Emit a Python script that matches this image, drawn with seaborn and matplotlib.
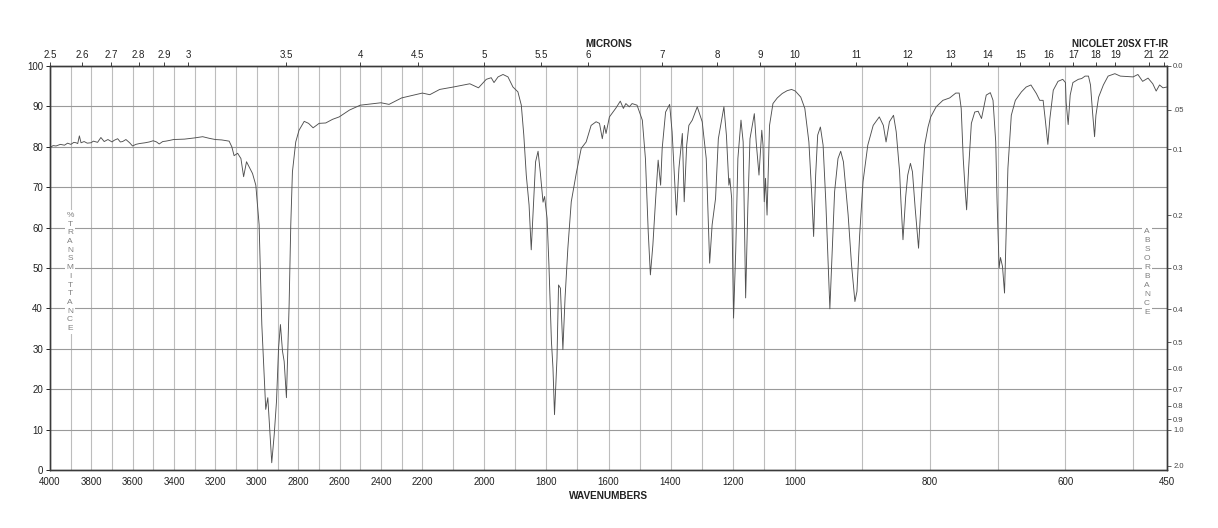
import numpy as np
import matplotlib
matplotlib.use("Agg")
import matplotlib.pyplot as plt
from matplotlib.ticker import FixedLocator, NullFormatter
import seaborn as sns

# ---------------- data ----------------
wavenumbers = [
    4000, 3985, 3971, 3950, 3930, 3915, 3899, 3885, 3874, 3866, 3858, 3850, 3835, 3820, 3802,
    3790, 3770, 3754, 3738, 3720, 3700, 3690, 3673, 3660, 3649, 3633, 3615, 3601, 3585,
    3568, 3540, 3520, 3501, 3485, 3472, 3455, 3440, 3420, 3403, 3350, 3301, 3262, 3230,
    3201, 3170, 3134, 3121, 3110, 3093, 3077, 3064, 3050, 3037, 3021, 3005, 2989, 2976,
    2965, 2957, 2947, 2937, 2928, 2916, 2905, 2895, 2886, 2876, 2868, 2857, 2844, 2836,
    2828, 2812, 2796, 2771, 2750, 2728, 2699, 2667, 2634, 2602, 2552, 2500, 2400, 2361,
    2300, 2200, 2176, 2144, 2100, 2047, 2019, 1994, 1978, 1969, 1956, 1940, 1924, 1908,
    1892, 1881, 1873, 1865, 1856, 1849, 1841, 1835, 1827, 1820, 1811, 1806, 1798, 1792,
    1784, 1779, 1774, 1766, 1761, 1755, 1747, 1740, 1731, 1720, 1704, 1688, 1672, 1656,
    1640, 1629, 1620, 1613, 1608, 1597, 1576, 1562, 1552, 1544, 1533, 1524, 1508, 1491,
    1481, 1472, 1465, 1457, 1448, 1440, 1432, 1427, 1416, 1403, 1395, 1387, 1381, 1373,
    1362, 1356, 1348, 1341, 1330, 1314, 1298, 1285, 1274, 1266, 1255, 1246, 1228, 1220,
    1212, 1209, 1203, 1197, 1190, 1183, 1173, 1166, 1158, 1151, 1144, 1130, 1124, 1115,
    1106, 1102, 1098, 1094, 1089, 1081, 1070, 1056, 1040, 1024, 1010, 999, 991, 985,
    979, 975, 972, 969, 966, 962, 958, 954, 950, 948, 945, 941, 936, 932, 928, 921, 916,
    911, 908, 904, 899, 892, 884, 875, 869, 865, 860, 854, 850, 845, 843, 840, 836, 833,
    829, 826, 822, 817, 813, 808, 803, 799, 791, 781, 771, 762, 757, 754, 751, 748, 746,
    743, 739, 734, 729, 724, 717, 711, 707, 703, 701, 698, 696, 693, 690, 688, 685, 680,
    674, 665, 658, 651, 643, 638, 633, 630, 626, 623, 618, 611, 604, 600, 599, 596, 593,
    589, 581, 576, 571, 566, 563, 560, 557, 555, 551, 544, 537, 527, 519, 510, 500, 493,
    486, 478, 471, 466, 461, 456, 450,
]
transmittance = [
    79.8, 80.3, 80.2, 80.6, 80.4, 80.9, 80.6, 81.1, 81.0, 80.8, 82.7, 81.0, 81.3, 80.9, 81.0,
    81.4, 81.1, 82.3, 81.3, 81.8, 81.2, 81.6, 82.0, 81.2, 81.3, 81.8, 81.0, 80.2, 80.6,
    80.8, 81.0, 81.2, 81.5, 81.2, 80.7, 81.3, 81.4, 81.6, 81.8, 81.9, 82.2, 82.5, 82.1,
    81.8, 81.7, 81.4, 80.0, 77.8, 78.4, 77.1, 72.6, 76.3, 75.0, 73.4, 70.5, 60.7, 36.0,
    23.6, 15.0, 17.9, 9.6, 1.8, 8.8, 17.0, 30.2, 36.0, 29.4, 26.9, 17.9, 40.9, 60.7,
    73.8, 81.2, 84.1, 86.3, 85.8, 84.7, 85.8, 85.9, 86.8, 87.4, 89.1, 90.3, 90.9, 90.5,
    92.1, 93.3, 92.9, 94.2, 94.8, 95.6, 94.6, 96.7, 97.1, 95.9, 97.3, 97.9, 97.3, 94.8,
    93.6, 90.3, 82.9, 73.0, 65.6, 54.5, 67.2, 76.3, 78.9, 73.8, 66.3, 67.7, 62.3, 50.8,
    31.9, 25.3, 13.7, 27.7, 45.8, 45.0, 29.8, 42.6, 54.9, 66.4, 73.4, 79.6, 81.2, 85.3,
    86.2, 85.8, 82.0, 85.3, 83.3, 87.4, 89.6, 91.3, 89.5, 90.7, 89.9, 90.7, 90.3, 86.6,
    77.1, 59.0, 48.3, 55.7, 67.2, 76.7, 70.5, 79.6, 88.6, 90.5, 83.7, 72.2, 63.1, 74.7,
    83.3, 66.4, 80.4, 85.3, 86.6, 89.9, 86.2, 77.1, 51.2, 60.7, 67.2, 82.0, 89.9, 82.9,
    70.5, 72.2, 67.2, 37.6, 54.1, 77.1, 86.6, 81.2, 42.6, 64.8, 82.0, 88.2, 81.2, 73.0,
    84.1, 80.4, 66.4, 72.2, 63.1, 85.3, 90.7, 92.1, 93.2, 93.9, 94.2, 93.8, 92.3, 89.5,
    81.2, 68.9, 57.8, 73.0, 82.9, 84.9, 80.4, 66.4, 48.3, 39.9, 52.4, 68.9, 77.1, 78.9,
    76.3, 63.1, 50.8, 41.7, 44.2, 58.2, 71.4, 80.4, 85.3, 87.4, 85.3, 81.2, 86.2, 87.8,
    83.7, 73.8, 66.4, 57.0, 67.7, 73.0, 75.9, 73.8, 64.8, 54.9, 67.2, 80.4, 84.9, 87.4,
    89.9, 91.5, 92.1, 93.3, 93.3, 89.5, 77.1, 68.9, 64.4, 74.7, 85.8, 88.6, 88.8, 87.0,
    92.8, 93.4, 91.5, 81.2, 66.4, 50.0, 52.6, 50.4, 43.8, 56.5, 74.7, 87.8, 91.5, 93.6,
    94.8, 95.3, 93.2, 91.5, 91.5, 87.0, 80.6, 87.0, 94.0, 96.2, 96.7, 95.9, 91.1, 85.5,
    92.8, 95.9, 96.7, 96.9, 97.5, 97.5, 95.3, 88.6, 82.5, 87.8, 92.3, 95.3, 97.5, 98.1,
    97.5, 97.4, 97.3, 97.9, 96.2, 97.0, 95.6, 93.8, 95.3, 94.6, 94.8,
]
wavenumber_ticks = [4000, 3800, 3600, 3400, 3200, 3000, 2800, 2600, 2400, 2200, 2000,
                    1800, 1600, 1400, 1200, 1000, 800, 600, 450]
micron_ticks = [2.5, 2.6, 2.7, 2.8, 2.9, 3, 3.5, 4, 4.5, 5, 5.5, 6, 7, 8, 9, 10, 11,
                12, 13, 14, 15, 16, 17, 18, 19, 21, 22]
absorbance_ticks = [0.0, 0.05, 0.1, 0.2, 0.3, 0.4, 0.5, 0.6, 0.7, 0.8, 0.9, 1.0, 2.0]
absorbance_labels = ["0.0", ".05", "0.1", "0.2", "0.3", "0.4", "0.5", "0.6", "0.7",
                     "0.8", "0.9", "1.0", "2.0"]
transmittance_ticks = list(range(0, 101, 10))

# ---------------- style ----------------
sns.set_theme(style="white")
plt.rcParams["font.family"] = ["Liberation Sans", "DejaVu Sans"]

SPINE = "#3a3a3a"
TXT = "#222222"


# piecewise-linear wavenumber scale (4000-2200, 2200-1000, 1000-450 each one third)
def fwd(w):
    w = np.asarray(w, dtype=float)
    p = np.where(w >= 2200, (4000 - w) / 1800,
                 np.where(w >= 1000, 1 + (2200 - w) / 1200, 2 + (1000 - w) / 550))
    return 3 - p


def inv(q):
    p = 3 - np.asarray(q, dtype=float)
    return np.where(p <= 1, 4000 - 1800 * p,
                    np.where(p <= 2, 2200 - 1200 * (p - 1), 1000 - 550 * (p - 2)))


fig = plt.figure(figsize=(12.18, 5.28), dpi=100)
ax = fig.add_axes([50 / 1218, 1 - 470 / 528, 1117 / 1218, 404 / 528])

sns.lineplot(x=wavenumbers, y=transmittance, ax=ax, color="#505050",
             linewidth=0.65, sort=False, estimator=None)

ax.set_xscale("function", functions=(fwd, inv))
ax.set_xlim(4000, 450)
ax.set_ylim(0, 100)

# grid
ax.set_xticks(wavenumber_ticks)
ax.set_xticklabels([str(t) for t in wavenumber_ticks])
ax.xaxis.set_minor_locator(FixedLocator(list(range(500, 4000, 100))))
ax.xaxis.set_minor_formatter(NullFormatter())
ax.grid(which="both", axis="x", color="#bdbdbd", linewidth=0.8)
ax.set_yticks(transmittance_ticks)
ax.grid(which="major", axis="y", color="#9a9a9a", linewidth=0.8)
ax.set_axisbelow(True)

ax.tick_params(axis="x", which="both", length=0, pad=5, labelsize=7, colors=TXT)
ax.tick_params(axis="y", which="major", length=3, width=0.7, pad=2, labelsize=7,
               colors=TXT, left=True, direction="out")
ax.set_xlabel("")
ax.set_ylabel("")
for s in ax.spines.values():
    s.set_color(SPINE)
    s.set_linewidth(0.9)

# right absorbance axis
axr = ax.twinx()
axr.set_ylim(0, 100)
axr.set_yticks([100 * 10 ** (-a) for a in absorbance_ticks])
axr.set_yticklabels(absorbance_labels)
axr.tick_params(axis="y", length=3, width=0.6, pad=1.5, labelsize=5.5,
                colors="#444444", right=True, direction="out")
axr.grid(False)
for s in axr.spines.values():
    s.set_color(SPINE)
    s.set_linewidth(0.9)

# top micron axis
axt = ax.twiny()
axt.set_xscale("function", functions=(fwd, inv))
axt.set_xlim(4000, 450)
axt.set_xticks([10000 / m for m in micron_ticks])
axt.set_xticklabels([f"{m:g}" for m in micron_ticks])
axt.xaxis.set_minor_locator(FixedLocator([]))
axt.tick_params(axis="x", which="major", length=3, width=0.6, pad=1.5, labelsize=7,
                colors=TXT, top=True, direction="out")
axt.grid(False)
for s in axt.spines.values():
    s.set_color(SPINE)
    s.set_linewidth(0.9)

# stacked axis titles
ax.text(20 / 1117, 49, "\n".join("%TRANSMITTANCE"), transform=ax.get_yaxis_transform(),
        ha="center", va="center", fontsize=6, color="#808080", linespacing=1.34,
        bbox=dict(facecolor="white", edgecolor="none", pad=1.2), zorder=5)
ax.text(1097 / 1117, 49, "\n".join("ABSORBANCE"), transform=ax.get_yaxis_transform(),
        ha="center", va="center", fontsize=6, color="#808080", linespacing=1.40,
        bbox=dict(facecolor="white", edgecolor="none", pad=1.2), zorder=5)

fig.text(609 / 1218, 1 - 44 / 528, "MICRONS", ha="center", va="center",
         fontsize=7.2, fontweight="bold", color=TXT)
fig.text(1120 / 1218, 1 - 44 / 528, "NICOLET 20SX FT-IR", ha="center", va="center",
         fontsize=7, fontweight="bold", color=TXT)
fig.text(609 / 1218, 1 - 496 / 528, "WAVENUMBERS", ha="center", va="center",
         fontsize=7.2, fontweight="bold", color=TXT)

fig.savefig("out.png", dpi=100)
